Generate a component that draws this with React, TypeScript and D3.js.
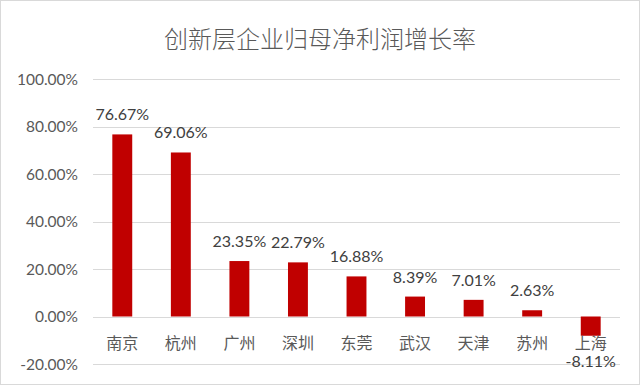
import React, { useRef, useEffect } from 'react';
import * as d3 from 'd3';

const cities = ['南京', '杭州', '广州', '深圳', '东莞', '武汉', '天津', '苏州', '上海'];
const growth = [76.67, 69.06, 23.35, 22.79, 16.88, 8.39, 7.01, 2.63, -8.11];
const yTicks = [-20, 0, 20, 40, 60, 80, 100];

const width = 640;
const height = 385;
const font = 'Lato, "Noto Sans CJK SC", sans-serif';

const App: React.FC = () => {
  const svgRef = useRef<SVGSVGElement | null>(null);

  useEffect(() => {
    if (!svgRef.current) return;
    const svg = d3.select(svgRef.current);
    svg.selectAll('*').remove();

    const margin = { left: 93, right: 20, top: 79, bottom: 21 };

    svg.append('rect')
      .attr('x', 0.5).attr('y', 0.5)
      .attr('width', width - 1).attr('height', height - 1)
      .attr('fill', '#fff')
      .attr('stroke', '#d9d9d9');

    const x = d3.scaleBand<string>()
      .domain(cities)
      .range([margin.left, width - margin.right])
      .paddingInner(0.66)
      .paddingOuter(0.33);

    const y = d3.scaleLinear()
      .domain([-20, 100])
      .range([height - margin.bottom, margin.top]);

    svg.append('text')
      .attr('x', width / 2)
      .attr('y', 48)
      .attr('text-anchor', 'middle')
      .text('创新层企业归母净利润增长率')
      .style('font-family', font)
      .style('font-size', '24px')
      .style('font-weight', '300')
      .style('fill', '#595959');

    svg.append('g')
      .selectAll('line')
      .data(yTicks)
      .enter().append('line')
      .attr('x1', margin.left)
      .attr('x2', width - margin.right)
      .attr('y1', (d) => Math.round(y(d)) + 0.5)
      .attr('y2', (d) => Math.round(y(d)) + 0.5)
      .attr('stroke', '#d9d9d9');

    svg.append('g')
      .selectAll('text')
      .data(yTicks)
      .enter().append('text')
      .attr('x', 78)
      .attr('y', (d) => y(d) + 5.5)
      .attr('text-anchor', 'end')
      .text((d) => `${d.toFixed(2)}%`)
      .style('font-family', font)
      .style('font-size', '15.5px')
      .style('fill', '#595959');

    svg.append('g')
      .selectAll('rect')
      .data(growth)
      .enter().append('rect')
      .attr('x', (d, i) => x(cities[i]) as number)
      .attr('width', x.bandwidth())
      .attr('y', (d) => y(Math.max(0, d)))
      .attr('height', (d) => Math.abs(y(d) - y(0)))
      .attr('fill', '#c00000');

    svg.append('g')
      .selectAll('text')
      .data(growth)
      .enter().append('text')
      .attr('x', (d, i) => (x(cities[i]) as number) + x.bandwidth() / 2)
      .attr('y', (d) => (d >= 0 ? y(d) - 14 : y(d) + 31))
      .attr('text-anchor', 'middle')
      .text((d) => `${d.toFixed(2)}%`)
      .style('font-family', font)
      .style('font-size', '16px')
      .style('fill', '#404040');

    svg.append('g')
      .selectAll('text')
      .data(cities)
      .enter().append('text')
      .attr('x', (d) => (x(d) as number) + x.bandwidth() / 2)
      .attr('y', y(0) + 32)
      .attr('text-anchor', 'middle')
      .text((d) => d)
      .style('font-family', font)
      .style('font-size', '16px')
      .style('fill', '#595959');
  }, []);

  return (
    <>
      <style>{'body{margin:0}'}</style>
      <svg ref={svgRef} width={width} height={height} style={{ display: 'block' }}></svg>
    </>
  );
};

export default App;
